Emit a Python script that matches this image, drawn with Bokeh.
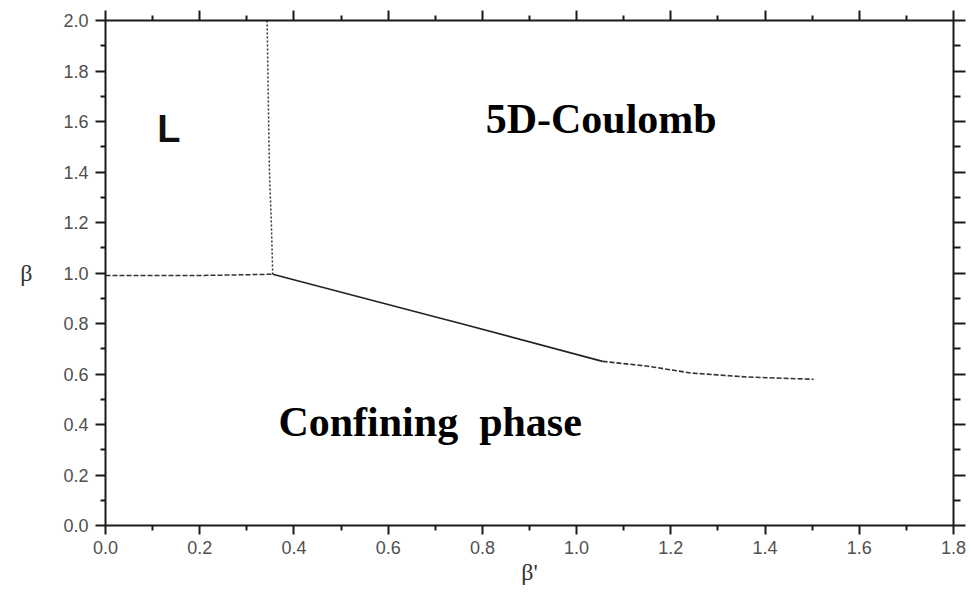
from bokeh.plotting import figure
from bokeh.models import LinearAxis, FixedTicker, PrintfTickFormatter, Range1d
from bokeh.core.properties import value
from bokeh.embed import file_html
from bokeh.resources import INLINE

# Axis ticks
x_major = [0.0, 0.2, 0.4, 0.6, 0.8, 1.0, 1.2, 1.4, 1.6, 1.8]
x_minor = [0.1, 0.3, 0.5, 0.7, 0.9, 1.1, 1.3, 1.5, 1.7]
y_major = [0.0, 0.2, 0.4, 0.6, 0.8, 1.0, 1.2, 1.4, 1.6, 1.8, 2.0]
y_minor = [0.1, 0.3, 0.5, 0.7, 0.9, 1.1, 1.3, 1.5, 1.7, 1.9]

# Phase boundaries (beta' , beta)
vert_bp = [0.343, 0.348, 0.352, 0.355]
vert_b = [2.0, 1.4, 1.2, 0.995]

horiz_bp = [0.0, 0.2, 0.355]
horiz_b = [0.99, 0.99, 0.995]

solid_bp = [0.355, 0.711, 0.754, 1.055]
solid_b = [0.995, 0.821, 0.800, 0.650]

tail_bp = [1.055, 1.151, 1.242, 1.363, 1.503]
tail_b = [0.650, 0.631, 0.604, 0.588, 0.579]

# Region labels
region_text = ["L", "5D-Coulomb", "Confining\u2002phase"]
region_bp = [0.110, 0.807, 0.367]
region_b = [1.570, 1.610, 0.408]

p = figure(width=970, height=592,
           x_range=Range1d(0, 1.8), y_range=Range1d(0, 2.0),
           output_backend="svg", toolbar_location=None,
           min_border_left=105, min_border_right=17,
           min_border_top=20, min_border_bottom=67)
p.outline_line_color = None
p.xgrid.grid_line_color = None
p.ygrid.grid_line_color = None
p.background_fill_color = "white"
p.border_fill_color = "white"


def style_axis(ax, major, minor, show_labels, major_len, minor_len):
    ax.ticker = FixedTicker(ticks=major, minor_ticks=minor)
    ax.formatter = PrintfTickFormatter(format="%.1f")
    ax.axis_line_width = 2
    ax.axis_line_color = "#1a1a1a"
    ax.major_tick_line_width = 2
    ax.major_tick_line_color = "#1a1a1a"
    ax.minor_tick_line_width = 2
    ax.minor_tick_line_color = "#1a1a1a"
    ax.major_tick_in = 0
    ax.major_tick_out = major_len
    ax.minor_tick_in = 0
    ax.minor_tick_out = minor_len
    if show_labels:
        ax.major_label_text_font = "Liberation Sans"
        ax.major_label_text_font_size = "18px"
        ax.major_label_text_color = "#505050"
        ax.major_label_standoff = 7
    else:
        ax.major_label_text_font_size = "0px"
        ax.major_label_text_color = None
        ax.major_label_standoff = 0


xb = p.xaxis[0]
yl = p.yaxis[0]
style_axis(xb, x_major, x_minor, True, 9, 5)
style_axis(yl, y_major, y_minor, True, 10, 5)
xb.major_label_standoff = 6

xt = LinearAxis()
style_axis(xt, x_major, x_minor, False, 10, 5)
p.add_layout(xt, "above")

yr = LinearAxis()
style_axis(yr, y_major, y_minor, False, 12, 7)
p.add_layout(yr, "right")

xb.axis_label = "β'"
yl.axis_label = "β"
for ax in (xb, yl):
    ax.axis_label_text_font = "Liberation Serif"
    ax.axis_label_text_font_size = "24px"
    ax.axis_label_text_font_style = "normal"
    ax.axis_label_text_color = "#333333"
xb.axis_label_standoff = 2
xb.axis_label_text_align = "right"
yl.axis_label_standoff = 28
yl.axis_label_orientation = "horizontal"
yl.axis_label_text_baseline = "alphabetic"

# Boundary lines
p.line(vert_bp, vert_b, line_color="#333333", line_width=1.5, line_dash="2 2")
p.line(horiz_bp, horiz_b, line_color="#333333", line_width=1.5, line_dash="5 2")
p.line(solid_bp, solid_b, line_color="#222222", line_width=1.6)
p.line(tail_bp, tail_b, line_color="#333333", line_width=1.6, line_dash="5 2")

# Region names
p.text(x=[region_bp[0]], y=[region_b[0]], text=[region_text[0]],
       text_font=value("Liberation Sans"), text_font_style="bold",
       text_font_size=value("38px"), text_color="#111111",
       text_align="left", text_baseline="alphabetic")
p.text(x=region_bp[1:], y=region_b[1:], text=region_text[1:],
       text_font=value("Liberation Serif"), text_font_style="bold",
       text_font_size=value("42px"), text_color="#000000",
       text_align="left", text_baseline="alphabetic")

open("out.html", "w").write(file_html(p, INLINE))
